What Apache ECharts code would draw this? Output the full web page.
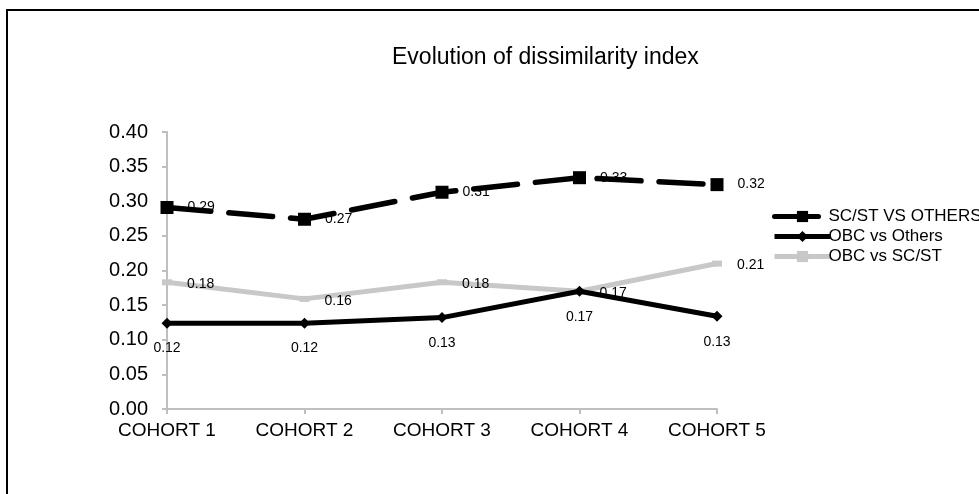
<!DOCTYPE html>
<html>
<head>
<meta charset="utf-8">
<script src="https://cdn.jsdelivr.net/npm/echarts@6/dist/echarts.min.js"></script>
<style>
  html, body { margin: 0; padding: 0; background: #fff; }
  #chart { width: 979px; height: 494px; }
</style>
</head>
<body>
<div id="chart"></div>
<script>
// Cohorts on the x axis
var cohorts = ['COHORT 1', 'COHORT 2', 'COHORT 3', 'COHORT 4', 'COHORT 5'];

// Dissimilarity index per group pair
var scstVsOthers = [0.291, 0.274, 0.313, 0.334, 0.324];
var obcVsOthers  = [0.124, 0.124, 0.132, 0.170, 0.134];
var obcVsScst    = [0.183, 0.159, 0.183, 0.170, 0.210];

var seriesNames = ['SC/ST VS OTHERS', 'OBC vs Others', 'OBC vs SC/ST'];

var FONT = '"Liberation Sans", Arial, sans-serif';
var fmt = function (p) { return p.value.toFixed(2); };

var chart = echarts.init(document.getElementById('chart'), null, { renderer: 'canvas' });

chart.setOption({
  animation: false,
  backgroundColor: '#ffffff',
  textStyle: { fontFamily: FONT },
  graphic: [{
    type: 'rect',
    shape: { x: 7, y: 10, width: 1100, height: 600 },
    style: { fill: 'none', stroke: '#000000', lineWidth: 2 },
    silent: true,
    z: 100
  }],
  title: {
    text: 'Evolution of dissimilarity index',
    left: 387,
    top: 41,
    textStyle: { fontFamily: FONT, fontSize: 23, fontWeight: 'normal', color: '#000' }
  },
  legend: {
    orient: 'vertical',
    left: 767,
    top: 203,
    itemWidth: 56,
    itemHeight: 14,
    itemGap: 3,
    lineStyle: { width: 5 },
    textStyle: { fontFamily: FONT, fontSize: 17, color: '#000', padding: [0, 0, 0, -7] },
    data: seriesNames
  },
  grid: { left: 167, right: 262, top: 132, bottom: 85, containLabel: false },
  xAxis: {
    type: 'category',
    data: cohorts,
    boundaryGap: false,
    axisLine: { lineStyle: { color: '#bfbfbf', width: 2 } },
    axisTick: { show: true, length: 5, lineStyle: { color: '#bfbfbf', width: 2 } },
    axisLabel: { fontFamily: FONT, fontSize: 19, color: '#000', margin: 12 },
    splitLine: { show: false }
  },
  yAxis: {
    type: 'value',
    min: 0,
    max: 0.4,
    interval: 0.05,
    axisLine: { show: true, lineStyle: { color: '#bfbfbf', width: 2 } },
    axisTick: { show: true, length: 5, lineStyle: { color: '#bfbfbf', width: 2 } },
    axisLabel: {
      fontFamily: FONT, fontSize: 20, color: '#000', margin: 19,
      formatter: function (v) { return v.toFixed(2); }
    },
    splitLine: { show: false }
  },
  series: [
    {
      name: seriesNames[0],
      type: 'line',
      data: scstVsOthers,
      symbol: 'rect',
      symbolSize: 13,
      itemStyle: { color: '#000' },
      lineStyle: { color: '#000', width: 5.5, type: [44, 18], cap: 'round' },
      label: {
        show: true, position: 'right', distance: 14,
        fontFamily: FONT, fontSize: 14, color: '#000', formatter: fmt
      },
      z: 3
    },
    {
      name: seriesNames[1],
      type: 'line',
      data: obcVsOthers,
      symbol: 'diamond',
      symbolSize: 11,
      itemStyle: { color: '#000' },
      lineStyle: { color: '#000', width: 5 },
      label: {
        show: true, position: 'bottom', distance: 13,
        fontFamily: FONT, fontSize: 14, color: '#000', formatter: fmt
      },
      z: 4
    },
    {
      name: seriesNames[2],
      type: 'line',
      data: obcVsScst,
      symbol: 'rect',
      symbolSize: [10, 6],
      itemStyle: { color: '#c8c8c8' },
      lineStyle: { color: '#c8c8c8', width: 5 },
      label: {
        show: true, position: 'right', distance: 15, offset: [0, 2],
        fontFamily: FONT, fontSize: 14, color: '#000', formatter: fmt
      },
      z: 2
    }
  ]
});
</script>
</body>
</html>
